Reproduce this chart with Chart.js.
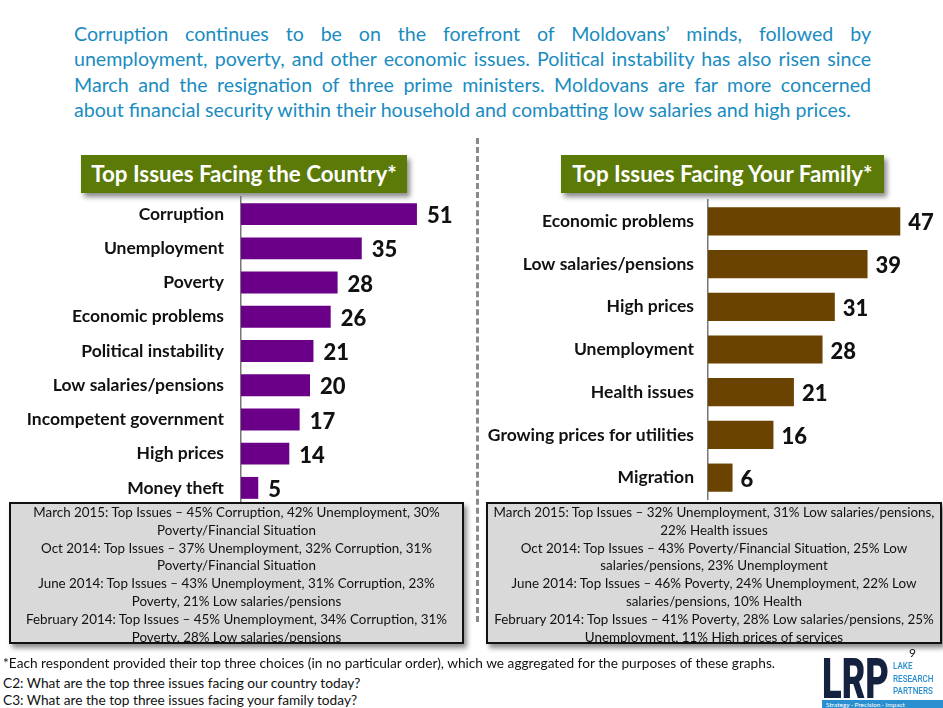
<!DOCTYPE html>
<html>
<head>
<meta charset="utf-8">
<script src="https://cdn.jsdelivr.net/npm/chart.js@4"></script>
<style>
  body { margin: 0; width: 943px; height: 708px; background: #fff; position: relative; overflow: hidden; font-family: Lato, "Open Sans", sans-serif; }
  .intro { position: absolute; left: 74px; top: 21px; width: 797px; color: #1a8cc0; font-size: 19.6px; line-height: 25.4px; }
  .intro div { text-align: justify; text-align-last: justify; white-space: nowrap; }
  .intro div.last { text-align-last: left; }
  .title { position: absolute; top: 155px; height: 38px; background: #5b7a07; color: #fff; font-weight: bold; font-size: 22.4px; line-height: 38px; text-align: center; box-shadow: 3px 4px 5px rgba(0,0,0,0.45); white-space: nowrap; }
  .divider { position: absolute; left: 476px; top: 138px; height: 484px; width: 0; border-left: 3px dashed #8a8a8a; }
  canvas { position: absolute; }
  .note { position: absolute; top: 502px; height: 142px; background: #d9d9d9; border: 2px solid #111; box-sizing: border-box; font-size: 13.4px; line-height: 17.8px; text-align: center; color: #111; padding-top: 0; box-shadow: 3px 4px 5px rgba(0,0,0,0.45); white-space: nowrap; }
  .foot { position: absolute; left: 3px; font-size: 13.7px; color: #111; white-space: nowrap; }
  .logo { position: absolute; left: 822px; top: 652px; }
</style>
</head>
<body>
<div class="intro">
  <div>Corruption continues to be on the forefront of Moldovans’ minds, followed by</div>
  <div>unemployment, poverty, and other economic issues. Political instability has also risen since</div>
  <div>March and the resignation of three prime ministers. Moldovans are far more concerned</div>
  <div class="last">about financial security within their household and combatting low salaries and high prices.</div>
</div>

<div class="title" style="left:81px; width:326px;">Top Issues Facing the Country*</div>
<div class="title" style="left:561px; width:323px;">Top Issues Facing Your Family*</div>
<div class="divider"></div>

<canvas id="country" width="480" height="320" style="left:0; top:190px;"></canvas>
<canvas id="family" width="463" height="315" style="left:480px; top:190px;"></canvas>

<div class="note" style="left:9px; width:455px;">March 2015: Top Issues – 45% Corruption, 42% Unemployment, 30%<br>Poverty/Financial Situation<br>Oct 2014: Top Issues – 37% Unemployment, 32% Corruption, 31%<br>Poverty/Financial Situation<br>June 2014: Top Issues – 43% Unemployment, 31% Corruption, 23%<br>Poverty, 21% Low salaries/pensions<br>February 2014: Top Issues – 45% Unemployment, 34% Corruption, 31%<br>Poverty, 28% Low salaries/pensions</div>
<div class="note" style="left:486px; width:456px;">March 2015: Top Issues – 32% Unemployment, 31% Low salaries/pensions,<br>22% Health issues<br>Oct 2014: Top Issues – 43% Poverty/Financial Situation, 25% Low<br>salaries/pensions, 23% Unemployment<br>June 2014: Top Issues – 46% Poverty, 24% Unemployment, 22% Low<br>salaries/pensions, 10% Health<br>February 2014: Top Issues – 41% Poverty, 28% Low salaries/pensions, 25%<br>Unemployment, 11% High prices of services</div>

<div class="foot" style="top:654px;">*Each respondent provided their top three choices (in no particular order), which we aggregated for the purposes of these graphs.</div>
<div class="foot" style="top:674px;">C2: What are the top three issues facing our country today?</div>
<div class="foot" style="top:691px;">C3: What are the top three issues facing your family today?</div>

<div style="position:absolute; left:909px; top:645px; font-size:12px; color:#111;">9</div>
<div class="logo">
  <div style="position:absolute; left:0; top:0px; font-size:55px; font-weight:900; color:#14213f; line-height:55px; font-family:Roboto, sans-serif; transform:scaleX(0.66); transform-origin:left top; white-space:nowrap;">LRP</div>
  <div style="position:absolute; left:71px; top:8px; font-size:9.5px; line-height:12.5px; color:#2a8fd0; font-family:Roboto, sans-serif; font-weight:500; transform:scaleX(0.85); transform-origin:left top;">LAKE<br>RESEARCH<br>PARTNERS</div>
  <div style="position:absolute; left:0; top:48px; width:121px; height:10px; background:#2a8fd0; color:#fff; font-size:6.5px; line-height:10px; padding-left:4px; box-sizing:border-box; white-space:nowrap;">Strategy · Precision · Impact</div>
</div>

<script>
const countryIssues = ['Corruption', 'Unemployment', 'Poverty', 'Economic problems', 'Political instability',
  'Low salaries/pensions', 'Incompetent government', 'High prices', 'Money theft'];
const countryValues = [51, 35, 28, 26, 21, 20, 17, 14, 5];

const familyIssues = ['Economic problems', 'Low salaries/pensions', 'High prices', 'Unemployment',
  'Health issues', 'Growing prices for utilities', 'Migration'];
const familyValues = [47, 39, 31, 28, 21, 16, 6];

// writes the number just past the end of each bar
const valueLabels = {
  id: 'valueLabels',
  afterDatasetsDraw(chart, args, opts) {
    const ctx = chart.ctx;
    const meta = chart.getDatasetMeta(0);
    ctx.save();
    ctx.font = '900 ' + opts.size + 'px Lato, sans-serif';
    ctx.fillStyle = '#111';
    ctx.textBaseline = 'middle';
    meta.data.forEach((bar, i) => {
      ctx.fillText(chart.data.datasets[0].data[i], bar.x + opts.offset, bar.y + 2);
    });
    ctx.restore();
  }
};

function makeChart(id, labels, values, colour, opt) {
  return new Chart(document.getElementById(id), {
    type: 'bar',
    data: {
      labels: labels,
      datasets: [{ data: values, backgroundColor: colour, barPercentage: opt.barPct, categoryPercentage: 1 }]
    },
    options: {
      indexAxis: 'y',
      responsive: false,
      animation: false,
      layout: { padding: opt.padding },
      plugins: {
        legend: { display: false },
        tooltip: { enabled: false },
        valueLabels: { size: opt.valueSize, offset: opt.offset }
      },
      scales: {
        x: { display: false, min: 0, max: opt.max },
        y: {
          grid: { display: false, drawTicks: false },
          border: { color: '#777', width: 1.5 },
          ticks: { color: '#111', font: { family: 'Lato', weight: 'bold', size: 17.5 }, padding: opt.tickPad },
          afterFit(scale) {
            scale.width = opt.axisWidth;
            scale.paddingTop = 0;
            scale.paddingBottom = 0;
          }
        }
      }
    },
    plugins: [valueLabels]
  });
}

makeChart('country', countryIssues, countryValues, '#6a0088', {
  max: 60, axisWidth: 241, tickPad: 17, barPct: 0.64, valueSize: 22, offset: 10,
  padding: { top: 7, bottom: 5, left: 0, right: 32 }
});
makeChart('family', familyIssues, familyValues, '#6b4300', {
  max: 55, axisWidth: 228, tickPad: 14, barPct: 0.66, valueSize: 22, offset: 8,
  padding: { top: 10, bottom: 6, left: 0, right: 10 }
});
</script>
</body>
</html>
